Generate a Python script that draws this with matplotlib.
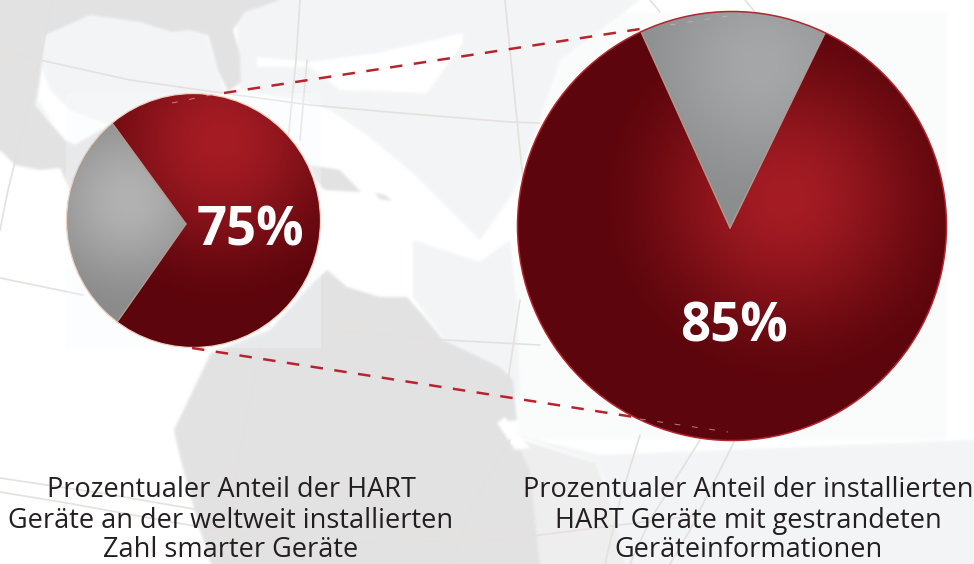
import numpy as np
import matplotlib
matplotlib.use("Agg")
import matplotlib.pyplot as plt
from matplotlib.patches import Circle, Polygon, Rectangle

W, H = 974, 564
plt.rcParams['font.family'] = ['Open Sans', 'DejaVu Sans']

# ---- data ----
labels = ["75%", "85%"]
drawn_red_share = [69.8, 86.0]     # share of the circle the red part takes as drawn
drawn_gray_share = [30.2, 14.0]
captions_left = ["Prozentualer Anteil der HART", "Geräte an der weltweit installierten", "Zahl smarter Geräte"]
captions_right = ["Prozentualer Anteil der installierten", "HART Geräte mit gestrandeten", "Geräteinformationen"]


def Y(y):
    return H - y


def P(pts):
    return [(x, Y(y)) for x, y in pts]


# ---- background map: drawn on its own canvas, softened, then placed behind the pies ----
OCEAN = '#f3f5f6'
LAND = '#e3e3e4'
GRID = '#e4e1de'

ocean = [
    [(236, 0), (640, 0), (560, 60), (515, 190), (480, 240), (413, 173), (367, 135), (330, 110), (300, 100), (240, 90)],
    [(40, 35), (90, 15), (205, 32), (225, 92), (110, 125), (75, 145), (35, 105)],
    [(413, 240), (480, 262), (510, 240), (517, 300), (520, 400), (497, 367), (450, 347), (430, 320), (413, 297)],
    [(515, 435), (600, 455), (974, 440), (974, 564), (620, 564), (610, 490), (596, 462)],
]
clouds = [
    [(257, 57), (310, 62), (377, 53), (463, 33), (463, 43), (427, 93), (340, 90), (310, 67), (257, 67)],
    [(40, 62), (38, 100), (65, 142), (75, 144), (110, 125), (70, 110), (50, 90)],
]
land = [
    [(0, 0), (280, 0), (245, 12), (233, 30), (240, 55), (241, 82), (228, 92), (218, 70), (208, 35), (190, 30), (172, 32),
     (140, 22), (90, 15), (45, 35), (40, 80), (35, 105), (65, 140), (75, 145), (110, 125), (70, 190), (60, 168), (40, 170), (15, 165), (0, 150)],
    [(310, 165), (340, 170), (361, 192), (325, 190), (315, 180)],
    [(375, 193), (385, 195), (392, 201), (380, 199)],
    [(313, 283), (327, 270), (347, 287), (380, 297), (407, 297), (427, 320), (443, 340), (500, 367), (513, 380),
     (517, 420), (497, 423), (515, 438), (530, 470), (540, 564), (211, 564), (199, 527), (180, 457), (174, 430), (211, 353), (270, 330)],
]
land_faded = [
    [(515, 438), (596, 463), (608, 493), (625, 564), (540, 564), (530, 470)],
]

bgfig = plt.figure(figsize=(W / 100, H / 100), dpi=100, facecolor='white')
bgax = bgfig.add_axes([0, 0, 1, 1])
bgax.add_patch(Rectangle((517, Y(440)), 430, 428, fc='#fbfcfc', ec='none'))
for poly in ocean:
    bgax.add_patch(Polygon(P(poly), closed=True, fc=OCEAN, ec='none', zorder=1))
for poly in clouds:
    bgax.add_patch(Polygon(P(poly), closed=True, fc='#ffffff', ec='none', zorder=1.5))
for poly in land:
    bgax.add_patch(Polygon(P(poly), closed=True, fc=LAND, ec='none', zorder=2))
for poly in land_faded:
    bgax.add_patch(Polygon(P(poly), closed=True, fc='#eeeeef', ec='none', zorder=2))
bgax.add_patch(Polygon(P([(497, 423), (505, 417), (530, 448), (515, 450)]), closed=True, fc='#ffffff', ec='none', zorder=2.2))
bgax.set_xlim(0, W)
bgax.set_ylim(0, H)
bgax.axis('off')
bgfig.canvas.draw()
bg = np.asarray(bgfig.canvas.buffer_rgba())[..., :3].astype(float) / 255
plt.close(bgfig)
kernel = np.ones(3) / 3
for axis in (0, 1):
    for _ in range(2):
        pad = [(0, 0)] * 3
        pad[axis] = (1, 1)
        bg = np.apply_along_axis(lambda v: np.convolve(v, kernel, mode='valid'), axis, np.pad(bg, pad, mode='edge'))

fig = plt.figure(figsize=(W / 100, H / 100), dpi=100, facecolor='white')
ax = fig.add_axes([0, 0, 1, 1])
ax.imshow(np.clip(bg, 0, 1), extent=(0, W, 0, H), origin='upper', zorder=0, aspect='auto')

grid_lines = [
    [(0, 50), (40, 60), (130, 80), (215, 92), (310, 105), (400, 113), (510, 122), (540, 123)],
    [(0, 278), (83, 295)],
    [(0, 478), (100, 493), (200, 510)],
    [(0, 492), (67, 503), (200, 527), (300, 543), (500, 540), (700, 515)],
    [(53, 0), (40, 60), (8, 190), (0, 230)],
    [(300, 0), (296, 60), (288, 140)],
    [(307, 60), (300, 140)],
    [(505, 0), (515, 100), (524, 190)],
    [(262, 340), (238, 460), (225, 564)],
    [(510, 440), (475, 500), (450, 564)],
    [(640, 435), (620, 500), (605, 564)],
    [(700, 440), (650, 520), (630, 564)],
    [(735, 440), (690, 530), (670, 564)],
    [(520, 300), (505, 400)],
    [(650, 0), (660, 12)],
    [(745, 0), (755, 12)],
    [(330, 330), (445, 340), (540, 345)],
]
for line in grid_lines:
    pts = np.array(P(line))
    ax.plot(pts[:, 0], pts[:, 1], color=GRID, lw=1.2, zorder=3, solid_capstyle='round')

ax.add_patch(Rectangle((66, Y(348)), 255, 255, fc='#f8fbfd', ec='none', alpha=0.3, zorder=3.5))


# ---- pies with radial shading ----
def shade(center, radius, c0, c1, xlim, ylim):
    xs = np.arange(xlim[0], xlim[1])
    ys = np.arange(ylim[0], ylim[1])
    xx, yy = np.meshgrid(xs, ys)
    d = np.hypot(xx - center[0], yy - center[1]) / radius
    t = np.clip(d, 0, 1)[..., None]
    t = t * t * (3 - 2 * t)
    c0 = np.array(matplotlib.colors.to_rgb(c0))
    c1 = np.array(matplotlib.colors.to_rgb(c1))
    return c0 * (1 - t) + c1 * t


def draw_pie(center, r, apex, red_share, gray_share, gray_start,
             red_grad, gray_grad, edge, edge_lw, seam):
    cx, cy = center
    ylo, yhi = int(cy - r - 2), int(cy + r + 3)
    xlo, xhi = int(cx - r - 2), int(cx + r + 3)
    disk = Circle((cx, Y(cy)), r, transform=ax.transData)
    wedges, _ = ax.pie([gray_share, red_share], center=(apex[0], Y(apex[1])), radius=r * 2.2,
                       startangle=gray_start, counterclock=True, frame=True,
                       colors=['none', 'none'], wedgeprops=dict(linewidth=0))
    gray_w = wedges[0]

    ext = (xlo, xhi, Y(yhi), Y(ylo))
    img = shade(red_grad[0], red_grad[1], red_grad[2], red_grad[3], (xlo, xhi), (ylo, yhi))
    im = ax.imshow(img, extent=ext, origin='upper', zorder=5, interpolation='bilinear', aspect='auto')
    im.set_clip_path(disk)

    def hit(theta):
        dx, dy = np.cos(np.radians(theta)), np.sin(np.radians(theta))
        ax_, ay_ = apex[0] - cx, Y(apex[1]) - Y(cy)
        b = ax_ * dx + ay_ * dy
        c = ax_ ** 2 + ay_ ** 2 - r ** 2
        s = -b + np.sqrt(b * b - c)
        return ax_ + s * dx, ay_ + s * dy

    p1, p2 = hit(gray_w.theta1), hit(gray_w.theta2)
    a1, a2 = np.arctan2(p1[1], p1[0]), np.arctan2(p2[1], p2[0])
    if a2 < a1:
        a2 += 2 * np.pi
    arc = [(cx + r * np.cos(a), Y(cy) + r * np.sin(a)) for a in np.linspace(a1, a2, 120)]
    verts = [(apex[0], Y(apex[1]))] + arc + [(apex[0], Y(apex[1]))]
    sector = Polygon(verts, closed=True, transform=ax.transData)
    img2 = shade(gray_grad[0], gray_grad[1], gray_grad[2], gray_grad[3], (xlo, xhi), (ylo, yhi))
    im2 = ax.imshow(img2, extent=ext, origin='upper', zorder=6, interpolation='bilinear', aspect='auto')
    im2.set_clip_path(sector)

    for pt in (arc[0], arc[-1]):
        ax.plot([apex[0], pt[0]], [Y(apex[1]), pt[1]], color=seam, lw=1.0, zorder=7, solid_capstyle='round')
    ax.add_patch(Circle((cx, Y(cy)), r, fc='none', ec=edge, lw=edge_lw, zorder=8))


draw_pie((193.5, 220.5), 127, (186, 224), drawn_red_share[0], drawn_gray_share[0], 126.2,
         ((220, 140), 175, '#a51c24', '#5c050c'),
         ((128, 200), 115, '#b2b2b2', '#8b8b8b'),
         '#efd3bf', 0.9, '#b39a8e')
draw_pie((732, 226), 214.5, (730, 228), drawn_red_share[1], drawn_gray_share[1], 64.0,
         ((785, 197), 200, '#a51c24', '#5c050c'),
         ((760, 65), 150, '#a5a7a8', '#8b8d8e'),
         '#b5252e', 1.1, '#b39a8e')

# ---- connectors ----
DASH = '#b8242e'
conn_top = np.array(P([(224, 93), (640, 29)]))
conn_bot = np.array(P([(192, 348), (634, 417)]))
for c in (conn_top, conn_bot):
    ax.plot(c[:, 0], c[:, 1], color=DASH, lw=1.8, dashes=(5, 4.6), zorder=9, dash_capstyle='butt')
for seg in ([(172, 103), (215, 94)], [(670, 25), (740, 14)], [(640, 419), (728, 432)]):
    c = np.array(P(seg))
    ax.plot(c[:, 0], c[:, 1], color='#d9b6ae', lw=0.7, dashes=(6, 12), alpha=0.7, zorder=9)

# ---- text ----
ax.text(250.5, Y(232), labels[0], color='white', fontsize=38, fontweight='bold', ha='center', va='center', zorder=10)
ax.text(733.5, Y(327), labels[1], color='white', fontsize=38, fontweight='bold', ha='center', va='center', zorder=10)

for caps, x in ((captions_left, 231), (captions_right, 748)):
    for cap, base in zip(caps, (497, 528, 557)):
        ax.text(x, Y(base), cap, color='#231f20', fontsize=19.5, ha='center', va='baseline', zorder=10)

ax.set_xlim(0, W)
ax.set_ylim(0, H)
ax.set_aspect('auto')
ax.axis('off')
fig.savefig('out.png', dpi=100, facecolor='white')
